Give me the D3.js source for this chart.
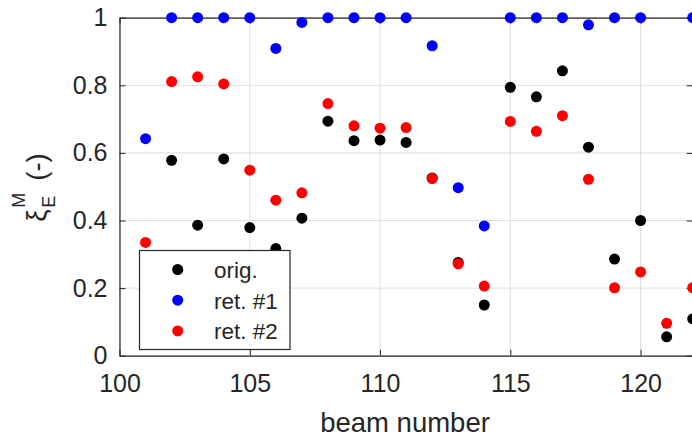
<!DOCTYPE html>
<html>
<head>
<meta charset="utf-8">
<script src="https://cdn.jsdelivr.net/npm/d3@7"></script>
<style>
  html, body { margin: 0; padding: 0; background: #fff; }
  svg { display: block; font-family: "Liberation Sans", Arial, Helvetica, sans-serif; }
</style>
</head>
<body>
<svg id="chart" width="692" height="438"></svg>
<script>
// Beam numbers along the x axis
const beams = [101, 102, 103, 104, 105, 106, 107, 108, 109, 110, 111,
               112, 113, 114, 115, 116, 117, 118, 119, 120, 121, 122];

// Efficiency values per beam (null = no point shown)
const orig = [null, 0.578, 0.386, 0.582, 0.379, 0.317, 0.407, 0.694, 0.636, 0.638, 0.631,
              0.526, 0.276, 0.150, 0.794, 0.766, 0.843, 0.617, 0.286, 0.400, 0.056, 0.109];
const ret1 = [0.642, 1.000, 1.000, 1.000, 1.000, 0.909, 0.986, 1.000, 1.000, 1.000, 1.000,
              0.917, 0.497, 0.384, 1.000, 1.000, 1.000, 0.979, 1.000, 1.000, null, 1.000];
const ret2 = [0.335, 0.811, 0.825, 0.804, 0.549, 0.460, 0.482, 0.746, 0.680, 0.673, 0.675,
              0.524, 0.272, 0.206, 0.693, 0.664, 0.710, 0.522, 0.201, 0.248, 0.096, 0.201];

const seriesNames = ["orig.", "ret. #1", "ret. #2"];
const seriesColors = ["#000000", "#0000ff", "#ff0000"];

const xTicks = [100, 105, 110, 115, 120];
const yTicks = [0, 0.2, 0.4, 0.6, 0.8, 1];
const xLabel = "beam number";

const svg = d3.select("#chart");
const axisColor = "#262626";
const gridColor = "#dfdfdf";

const x = d3.scaleLinear().domain([100, 122]).range([119.5, 692.7]);
const y = d3.scaleLinear().domain([0, 1]).range([355.7, 17.7]);
const [x0, x1] = x.range();
const [y0, y1] = y.range();

// grid
const grid = svg.append("g");
grid.selectAll("line.gx").data(xTicks).join("line")
  .attr("x1", d => x(d)).attr("x2", d => x(d))
  .attr("y1", y0).attr("y2", y1)
  .attr("stroke", gridColor).attr("stroke-width", 1);
grid.selectAll("line.gy").data(yTicks).join("line")
  .attr("x1", x0).attr("x2", x1)
  .attr("y1", d => y(d)).attr("y2", d => y(d))
  .attr("stroke", gridColor).attr("stroke-width", 1);

// axes with inward ticks, mirrored on the opposite sides
const tickLen = 6;
const fmt = d => d3.format("~g")(d);

const xAxisB = d3.axisBottom(x).tickValues(xTicks).tickSizeInner(-tickLen).tickSizeOuter(0).tickPadding(19).tickFormat(fmt);
const xAxisT = d3.axisTop(x).tickValues(xTicks).tickSizeInner(-tickLen).tickSizeOuter(0).tickFormat("");
const yAxisL = d3.axisLeft(y).tickValues(yTicks).tickSizeInner(-tickLen).tickSizeOuter(0).tickPadding(12).tickFormat(fmt);
const yAxisR = d3.axisRight(y).tickValues(yTicks).tickSizeInner(-tickLen).tickSizeOuter(0).tickFormat("");

function styleAxis(g) {
  g.selectAll("path.domain").attr("stroke", axisColor).attr("stroke-width", 1.2);
  g.selectAll(".tick line").attr("stroke", axisColor).attr("stroke-width", 1);
  g.selectAll(".tick text").attr("fill", axisColor)
    .style("font-size", "25px")
    .style("font-family", "'Liberation Sans', Arial, Helvetica, sans-serif");
}

svg.append("g").attr("transform", `translate(0,${y0})`).call(xAxisB).call(styleAxis);
svg.append("g").attr("transform", `translate(0,${y1})`).call(xAxisT).call(styleAxis);
svg.append("g").attr("transform", `translate(${x0},0)`).call(yAxisL).call(styleAxis);
svg.append("g").attr("transform", `translate(${x1},0)`).call(yAxisR).call(styleAxis);

// x axis title
svg.append("text")
  .attr("x", 405)
  .attr("y", 431.5)
  .attr("text-anchor", "middle")
  .attr("fill", axisColor)
  .style("font-size", "27.5px")
  .text(xLabel);

// y axis title: xi with subscript E and superscript M, then units
const yl = svg.append("g").attr("transform", `translate(46,${(y0 + y1) / 2}) rotate(-90)`)
  .attr("fill", axisColor);
yl.append("text").attr("x", -35).attr("y", 0).style("font-size", "27.5px").text("ξ");
yl.append("text").attr("x", -21).attr("y", -21).style("font-size", "18px").text("M");
yl.append("text").attr("x", -21).attr("y", 9).style("font-size", "18px").text("E");
yl.append("text").attr("x", 6).attr("y", 0).style("font-size", "27.5px").text("(-)");

// data points: orig first, then ret. #1, then ret. #2 on top
const series = [orig, ret1, ret2];
const r = 5.5;
series.forEach((vals, i) => {
  const pts = beams.map((b, j) => ({ b, v: vals[j] })).filter(p => p.v !== null);
  svg.append("g").selectAll("circle").data(pts).join("circle")
    .attr("cx", p => x(p.b))
    .attr("cy", p => y(p.v))
    .attr("r", r)
    .attr("fill", seriesColors[i]);
});

// legend
const lg = svg.append("g");
lg.append("rect")
  .attr("x", 139.5).attr("y", 250.5).attr("width", 150.5).attr("height", 99)
  .attr("fill", "#ffffff").attr("stroke", axisColor).attr("stroke-width", 1.2);
seriesNames.forEach((name, i) => {
  const cy = 269.5 + i * 30.7;
  lg.append("circle").attr("cx", 177.7).attr("cy", cy).attr("r", r).attr("fill", seriesColors[i]);
  lg.append("text").attr("x", 214).attr("y", cy + 8.5)
    .attr("fill", axisColor)
    .style("font-size", "22.5px")
    .text(name);
});
</script>
</body>
</html>
